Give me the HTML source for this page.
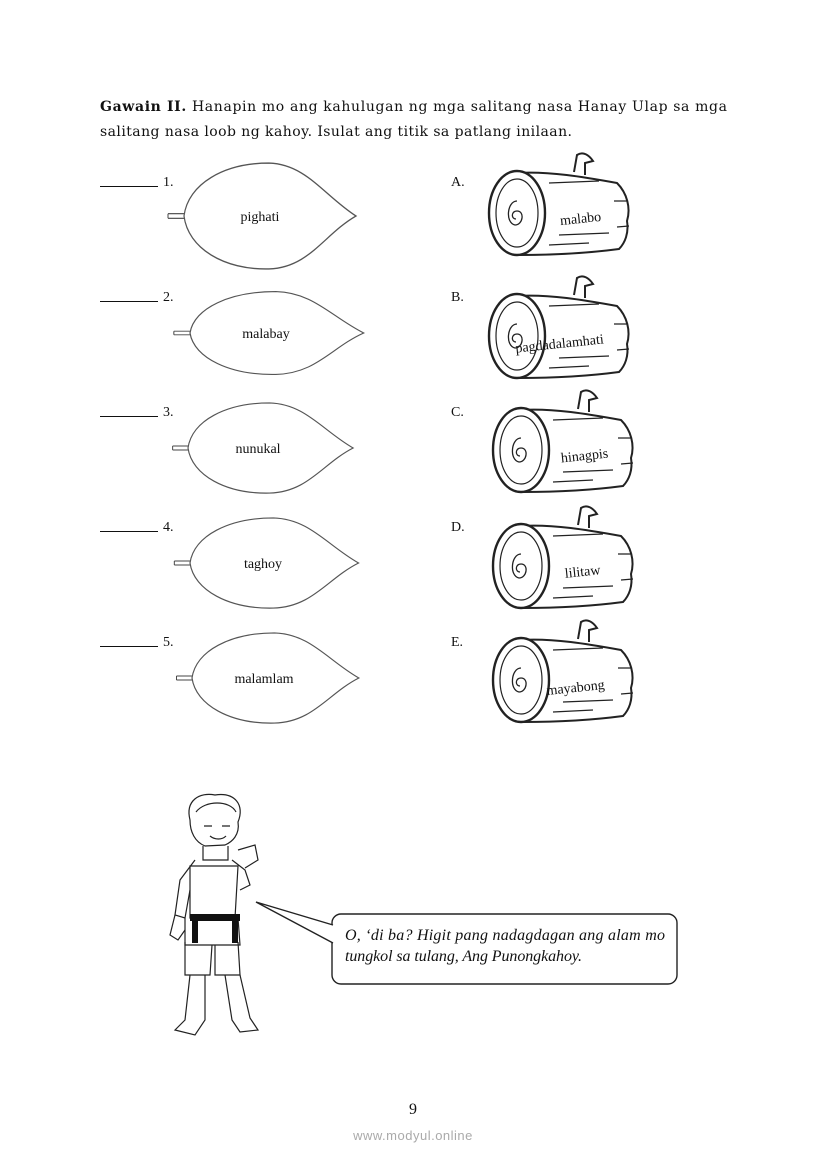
<!DOCTYPE html>
<html><head><meta charset="utf-8"><style>
html,body{margin:0;padding:0;background:#fff}
svg{display:block}
.h{font-family:"DejaVu Serif",serif;font-size:14px;fill:#111}
.t{font-family:"Liberation Serif",serif;font-size:14px;fill:#111}
</style></head><body>
<svg width="826" height="1169" viewBox="0 0 826 1169" xmlns="http://www.w3.org/2000/svg">
<defs>
<g id="leaf">
<path d="M-16,-2 L0,-2 M-16,2 L0,2 M-16,-2 L-16,2" stroke="#444" stroke-width="1" fill="none"/>
<path d="M0,0 C4,-28 40,-46 85,-46 C122,-45 140,-18 172,0 C140,16 125,45 85,46 C40,47 4,28 0,0 Z" fill="#fff" stroke="#555" stroke-width="1.2"/>
</g>
<g id="log">
<path d="M28,-40 C60,-42 95,-36 128,-30 C138,-20 142,-5 138,8 C140,20 136,30 130,36 C100,40 70,42 30,42" fill="#fff" stroke="#222" stroke-width="2"/>
<ellipse cx="28" cy="0" rx="28" ry="42" fill="#fff" stroke="#222" stroke-width="2.4"/>
<ellipse cx="28" cy="0" rx="21" ry="34" fill="none" stroke="#222" stroke-width="1.2"/>
<path d="M28,-12 C18,-12 16,10 26,12 C34,12 36,-2 28,-2 C22,-2 22,6 27,6" fill="none" stroke="#222" stroke-width="1.3"/>
<path d="M85,-41 L88,-58 C94,-62 100,-58 104,-52 L96,-50 L96,-38" fill="#fff" stroke="#222" stroke-width="2"/>
<path d="M60,-30 L110,-32 M70,22 L120,20 M60,32 L100,30 M125,-12 L138,-12 M128,14 L140,13" stroke="#222" stroke-width="1.2" fill="none"/>
</g>
</defs>

<text class="h" x="100" y="111" textLength="627" lengthAdjust="spacing"><tspan font-weight="bold">Gawain II.</tspan> Hanapin mo ang kahulugan ng mga salitang nasa Hanay Ulap sa mga</text>
<text class="h" x="100" y="136" textLength="472" lengthAdjust="spacing">salitang nasa loob ng kahoy. Isulat ang titik sa patlang inilaan.</text>

<g stroke="#111" stroke-width="1">
<line x1="100" y1="186.5" x2="158" y2="186.5"/>
<line x1="100" y1="301.5" x2="158" y2="301.5"/>
<line x1="100" y1="416.5" x2="158" y2="416.5"/>
<line x1="100" y1="531.5" x2="158" y2="531.5"/>
<line x1="100" y1="646.5" x2="158" y2="646.5"/>
</g>
<g class="t">
<text x="163" y="186">1.</text>
<text x="163" y="301">2.</text>
<text x="163" y="416">3.</text>
<text x="163" y="531">4.</text>
<text x="163" y="646">5.</text>
<text x="451" y="186">A.</text>
<text x="451" y="301">B.</text>
<text x="451" y="416">C.</text>
<text x="451" y="531">D.</text>
<text x="451" y="646">E.</text>
</g>

<use href="#leaf" transform="translate(184,216) scale(1,1.15)"/>
<use href="#leaf" transform="translate(190,333) scale(1.01,0.9)"/>
<use href="#leaf" transform="translate(188,448) scale(0.96,0.98)"/>
<use href="#leaf" transform="translate(190,563) scale(0.98,0.98)"/>
<use href="#leaf" transform="translate(192,678) scale(0.97,0.98)"/>
<g class="t" text-anchor="middle">
<text x="260" y="221">pighati</text>
<text x="266" y="338">malabay</text>
<text x="258" y="453">nunukal</text>
<text x="263" y="568">taghoy</text>
<text x="264" y="683">malamlam</text>
</g>

<use href="#log" transform="translate(489,213)"/>
<use href="#log" transform="translate(489,336)"/>
<use href="#log" transform="translate(493,450)"/>
<use href="#log" transform="translate(493,566)"/>
<use href="#log" transform="translate(493,680)"/>
<g class="t" text-anchor="middle">
<text x="581" y="223" transform="rotate(-6 581 223)">malabo</text>
<text x="560" y="348" transform="rotate(-6 560 348)">pagdadalamhati</text>
<text x="585" y="460" transform="rotate(-6 585 460)">hinagpis</text>
<text x="583" y="576" transform="rotate(-6 583 576)">lilitaw</text>
<text x="576" y="692" transform="rotate(-6 576 692)">mayabong</text>
</g>

<g fill="none" stroke="#222" stroke-width="1.2">
<path d="M190,820 C185,800 200,792 215,795 C235,792 245,805 238,822 C240,835 232,842 225,845 L205,846 C195,842 190,832 190,820 Z"/>
<path d="M196,812 C205,800 230,800 236,812 M204,826 L212,826 M222,826 L230,826 M210,836 C215,840 222,840 226,836"/>
<path d="M203,846 L203,860 L228,860 L228,846"/>
<path d="M195,860 L180,880 L175,915 L185,918 L190,890 M232,860 L245,870 L250,885 L240,890"/>
<path d="M190,866 L190,918 L235,918 L238,866 Z"/>
<path d="M185,942 L185,975 L210,975 L212,945 M215,945 L215,975 L240,975 L238,942"/>
<path d="M185,918 L185,945 L240,945 L238,918"/>
<path d="M190,975 L185,1020 L175,1030 L195,1035 L205,1020 L205,975 M225,975 L232,1020 L240,1032 L258,1030 L250,1018 L240,975"/>
<path d="M175,915 L170,935 L178,940 L185,930"/>
<path d="M238,850 L255,845 L258,860 L245,868"/>
</g>
<rect x="190" y="914" width="50" height="7" fill="#111"/>
<rect x="192" y="921" width="6" height="22" fill="#111"/>
<rect x="232" y="921" width="6" height="22" fill="#111"/>

<rect x="332" y="914" width="345" height="70" rx="9" fill="#fff" stroke="#222" stroke-width="1.4"/>
<path d="M333,925 L256,902 L333,943" fill="#fff" stroke="#222" stroke-width="1.4"/>
<text x="345" y="940" font-family="Liberation Serif,serif" font-style="italic" font-size="16" fill="#111" textLength="320" lengthAdjust="spacing">O, ‘di ba? Higit pang nadagdagan ang alam mo</text>
<text x="345" y="961" font-family="Liberation Serif,serif" font-style="italic" font-size="16" fill="#111" textLength="237" lengthAdjust="spacing">tungkol sa tulang, Ang Punongkahoy.</text>

<text x="413" y="1114" text-anchor="middle" font-family="Liberation Serif,serif" font-size="16" fill="#111">9</text>
<text x="413" y="1140" text-anchor="middle" font-family="Liberation Sans,sans-serif" font-size="13" fill="#aaa" letter-spacing="0.5">www.modyul.online</text>
</svg>
</body></html>
